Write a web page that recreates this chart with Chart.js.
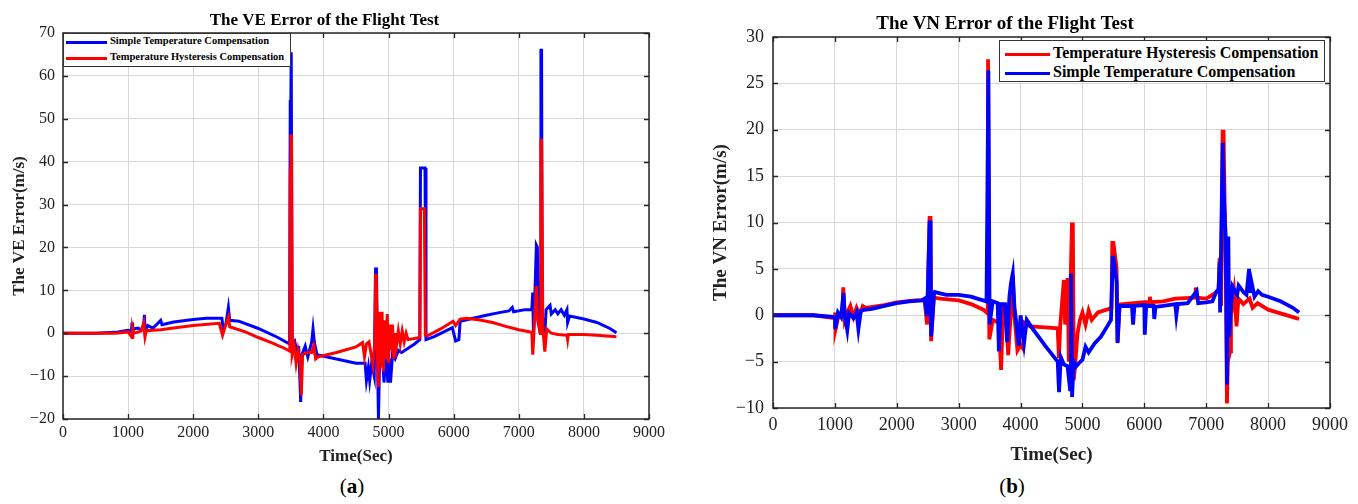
<!DOCTYPE html>
<html>
<head>
<meta charset="utf-8">
<script src="https://cdn.jsdelivr.net/npm/chart.js@4.4.0/dist/chart.umd.min.js"></script>
<style>
  body { margin: 0; background: #fff; font-family: "Liberation Serif", serif; }
  .wrap { position: absolute; top: 0; height: 470px; }
  .legend { position: absolute; background: #fff; border: 1px solid #333; box-sizing: border-box; font-weight: bold; color: #000; }
  .legend .row { position: absolute; white-space: nowrap; }
  .legend .swatch { position: absolute; height: 3px; }
  .cap { position: absolute; top: 474px; font-size: 21px; color: #000; transform: translateX(-50%); }
</style>
</head>
<body>
<div class="wrap" style="left:0;width:680px"><canvas id="ve"></canvas></div>
<div class="wrap" style="left:680px;width:678px"><canvas id="vn"></canvas></div>

<div class="legend" style="left:63px;top:33px;width:228px;height:34px;font-size:10.5px">
  <div class="swatch" style="left:2px;top:7px;width:41px;background:#0000ff"></div>
  <div class="row" style="left:46px;top:1px">Simple Temperature Compensation</div>
  <div class="swatch" style="left:2px;top:23px;width:41px;background:#ff0000"></div>
  <div class="row" style="left:46px;top:17px">Temperature Hysteresis Compensation</div>
</div>
<div class="legend" style="left:999px;top:40px;width:326px;height:42px;font-size:16px">
  <div class="swatch" style="left:5px;top:12px;width:45px;background:#ff0000"></div>
  <div class="row" style="left:53px;top:3px">Temperature Hysteresis Compensation</div>
  <div class="swatch" style="left:5px;top:31px;width:45px;background:#0000ff"></div>
  <div class="row" style="left:53px;top:22px">Simple Temperature Compensation</div>
</div>

<div class="cap" style="left:352px">(<b>a</b>)</div>
<div class="cap" style="left:1012px">(<b>b</b>)</div>

<script>
// [time (s), error (m/s)] pairs
const veSimple = [[0,0],[500,0],[800,0.2],[1000,0.7],[1050,0.4],[1060,2.5],[1070,-1],[1080,1],[1150,1.2],[1200,0.8],[1240,1.5],[1250,4.3],[1260,0.5],[1300,1.8],[1380,1.2],[1450,2.2],[1500,3],[1520,2],[1700,2.6],[2000,3.2],[2200,3.5],[2440,3.5],[2460,1],[2500,2],[2540,6],[2560,3],[2700,2.8],[3000,1.1],[3300,-1],[3480,-2.5],[3490,54],[3500,55],[3505,65.5],[3515,65.5],[3520,-3],[3560,-2],[3600,-5],[3620,-3],[3650,-16],[3670,-5],[3720,-3],[3760,-5.5],[3820,-2],[3840,1],[3860,-2],[3900,-5],[4200,-6],[4500,-7],[4640,-7],[4660,-11],[4690,-8],[4710,-11],[4740,-7],[4780,-10],[4800,15],[4815,15],[4830,-5],[4845,-20],[4860,-8],[4900,-3],[4930,-11.5],[4960,-4],[4990,-11.5],[5010,-6],[5030,-11.5],[5060,-5],[5100,-6],[5150,-4],[5200,-4.5],[5300,-3.5],[5400,-2.5],[5480,-1.5],[5490,38.5],[5560,38.5],[5575,-1.5],[5700,-0.8],[5850,0.3],[5980,1.3],[6030,-1.8],[6080,-1.5],[6100,2.8],[6300,3.5],[6500,4.2],[6700,4.8],[6850,5.2],[6900,6],[6920,5],[7100,5.5],[7200,5.5],[7215,9.5],[7225,0],[7240,5],[7270,20.5],[7285,20],[7300,3],[7330,0],[7340,66],[7350,66],[7360,4],[7400,0],[7420,5.5],[7480,6.5],[7500,4.5],[7560,5.5],[7600,4.5],[7650,5.5],[7700,4.2],[7740,5.5],[7750,2.5],[7780,4],[8000,3.3],[8200,2.5],[8400,1.1],[8500,0.1]]

const veHyst = [[0,0],[800,0],[1000,0.3],[1060,-1],[1070,1.2],[1090,0],[1200,0.5],[1240,2.5],[1260,-0.8],[1280,0.6],[1500,0.8],[1700,1.2],[2000,1.8],[2400,2.3],[2450,-0.5],[2480,1],[2540,3.8],[2560,1.5],[2800,0.3],[3000,-1],[3200,-2.2],[3400,-3.5],[3485,-4.2],[3490,38],[3500,46],[3510,46],[3520,-5],[3550,-3],[3580,-7],[3610,-4],[3640,-6.5],[3660,-14.5],[3680,-5],[3750,-4.5],[3820,-4.5],[3850,-3],[3880,-6],[3920,-5.5],[4200,-4.5],[4500,-3.2],[4600,-2.2],[4630,-5.5],[4660,-2.5],[4700,-2],[4760,-7.5],[4790,-2],[4800,13.5],[4810,13.5],[4830,-5],[4845,-12.5],[4860,5],[4880,-8],[4900,5],[4920,-9],[4940,3],[4960,-6],[4980,4.5],[5000,-7],[5020,2],[5040,-4],[5060,2],[5080,-6],[5100,0],[5120,-3],[5150,0.5],[5180,-2.5],[5210,0.5],[5240,-2],[5270,0],[5300,-1.5],[5480,-1],[5490,29],[5550,29],[5565,-0.5],[5600,-0.6],[5800,1],[5990,2.8],[6030,1.8],[6100,3.3],[6200,3.5],[6400,3.1],[6600,2.5],[6800,1.6],[7000,0.8],[7200,0.2],[7215,-5],[7235,1],[7270,11],[7290,3],[7330,0],[7340,45],[7350,45],[7370,1],[7400,-4.3],[7430,1],[7500,0],[7600,-0.3],[7740,-0.5],[7750,-1.5],[7760,-0.3],[8000,-0.3],[8200,-0.5],[8500,-0.8]]

const vnHyst = [[0,0],[650,0],[1000,-0.3],[1005,0.3],[1010,-1.5],[1050,-0.3],[1120,0],[1135,3],[1160,-0.5],[1200,0.3],[1250,1],[1300,-0.2],[1350,0.8],[1400,0],[1450,1],[1500,0.8],[1800,1.1],[2000,1.4],[2300,1.6],[2450,1.6],[2490,-1],[2530,10.5],[2545,10.5],[2555,-2.8],[2600,1.9],[2700,1.8],[3000,1.6],[3200,1.2],[3400,0.6],[3470,0.2],[3475,27.6],[3485,27.6],[3495,-2.6],[3550,-0.5],[3650,-0.8],[3685,-5.9],[3720,0.8],[3760,1],[3800,-4.3],[3840,0],[3875,4.3],[3900,0],[3950,-3.8],[4000,-3.2],[4040,-3.6],[4060,-0.8],[4150,-1.2],[4400,-1.3],[4600,-1.4],[4620,-4.6],[4640,-1.2],[4700,3.8],[4720,-1],[4760,4],[4780,-5],[4830,9.8],[4845,9.8],[4860,-7],[4880,-5.5],[4920,-2],[4960,-0.5],[5000,0.3],[5050,-1],[5100,0.5],[5150,-0.5],[5250,0.3],[5391,0.6],[5470,0.8],[5482,7.8],[5500,7.8],[5550,5.2],[5570,-2.9],[5600,1.15],[6000,1.4],[6080,1.4],[6090,2],[6100,1.4],[6300,1.5],[6500,1.8],[6820,1.9],[6830,3],[6840,1.9],[7000,1.8],[7150,2.4],[7200,2.8],[7217,6.2],[7240,1],[7265,19.8],[7280,19.8],[7300,11],[7320,3],[7335,-9.5],[7350,-5],[7385,-3.9],[7400,0],[7450,2.5],[7490,-1.2],[7520,1.8],[7600,1.2],[7700,1.8],[7750,0.8],[7830,1.3],[8000,0.6],[8200,0.2],[8400,-0.2],[8500,-0.4]]

const vnSimple = [[0,0],[650,0],[1000,-0.2],[1005,-1.5],[1050,0.3],[1100,-0.2],[1140,2.4],[1160,0],[1200,-1.6],[1230,0.2],[1300,-0.3],[1350,0.3],[1380,-1.5],[1420,0.5],[1500,0.6],[1600,0.7],[1800,1],[2000,1.3],[2200,1.5],[2400,1.6],[2450,1.8],[2490,-0.1],[2530,10],[2545,10],[2555,-2.3],[2600,2.2],[2615,2.5],[2800,2.2],[3000,2.2],[3200,2],[3300,1.8],[3450,1.5],[3480,26.4],[3490,26.4],[3500,-1],[3550,1.5],[3630,1.3],[3650,-3.9],[3680,1.2],[3748,1.2],[3783,-2.9],[3820,2],[3846,3.5],[3874,4.5],[3900,1],[3972,-3.3],[4000,0],[4056,-3],[4100,-0.5],[4200,-1.5],[4400,-3.3],[4600,-5],[4622,-8.3],[4650,-4.5],[4700,-5.3],[4760,-5.5],[4800,-8],[4815,4.5],[4832,-8.8],[4860,-5],[4900,-5.5],[4937,-5.2],[5000,-4.8],[5050,-3.4],[5100,-4],[5200,-3],[5300,-2.3],[5400,-1.2],[5461,-0.5],[5489,6.2],[5500,6.2],[5552,3.6],[5566,-3],[5600,1],[5800,1],[5818,-1],[5840,1],[6000,1.1],[6007,-2.1],[6030,1],[6150,1],[6161,-0.4],[6180,0.9],[6300,1],[6500,1.2],[6517,0],[6540,1.2],[6700,1.3],[6846,2.6],[6870,1.3],[7000,1.4],[7100,1.5],[7161,2.5],[7200,2.8],[7217,5.8],[7224,0.3],[7266,18.6],[7290,12],[7315,8.5],[7336,-7.5],[7357,8.5],[7371,-2.3],[7400,1],[7426,3.1],[7500,2.2],[7524,3.2],[7600,2.5],[7650,2.2],[7692,5],[7715,2.4],[7734,3.5],[7780,2],[7839,2.6],[7900,2.2],[8000,2],[8200,1.5],[8400,0.8],[8500,0.3]]

const timeTicks = { min: 0, max: 9000, step: 1000 }
const veTicks = { min: -20, max: 70, step: 10 }
const vnTicks = { min: -10, max: 30, step: 5 }

const FONT = "'Liberation Serif', 'Times New Roman', serif"
const toPoints = (pairs) => pairs.map(([x, y]) => ({ x, y }))
const fmt = (v) => String(v).replace("-", "\u2212")

// box around the plot plus matlab style inward ticks
const framePlugin = {
  id: "frame",
  afterDraw(chart) {
    const { ctx, chartArea: a, scales } = chart
    ctx.save()
    ctx.strokeStyle = "#262626"
    ctx.lineWidth = 1.3
    ctx.beginPath()
    scales.y.ticks.forEach((t) => {
      const py = Math.round(scales.y.getPixelForValue(t.value)) + 0.5
      ctx.moveTo(a.left, py); ctx.lineTo(a.left + 5, py)
      ctx.moveTo(a.right, py); ctx.lineTo(a.right - 5, py)
    })
    scales.x.ticks.forEach((t) => {
      const px = Math.round(scales.x.getPixelForValue(t.value)) + 0.5
      ctx.moveTo(px, a.bottom); ctx.lineTo(px, a.bottom - 5)
      ctx.moveTo(px, a.top); ctx.lineTo(px, a.top + 5)
    })
    ctx.stroke()
    ctx.lineWidth = 1.5
    ctx.strokeRect(a.left, a.top, a.right - a.left, a.bottom - a.top)
    ctx.restore()
  }
}

function makeChart(id, opts) {
  const ds = opts.series.map((s) => ({
    label: s.label,
    data: toPoints(s.data),
    borderColor: s.color,
    borderWidth: opts.lineWidth,
    pointRadius: 0,
    tension: 0,
    fill: false
  }))

  return new Chart(document.getElementById(id), {
    type: "line",
    data: { datasets: ds },
    options: {
      animation: false,
      responsive: true,
      maintainAspectRatio: false,
      layout: { padding: opts.padding },
      plugins: {
        legend: { display: false },
        tooltip: { enabled: false },
        title: {
          display: true,
          text: opts.title,
          color: "#000",
          font: { family: FONT, size: opts.titleSize, weight: "bold", lineHeight: 1.2 },
          padding: opts.titlePad
        }
      },
      scales: {
        x: {
          type: "linear",
          min: timeTicks.min,
          max: timeTicks.max,
          afterFit: (scale) => { scale.height = opts.xHeight },
          ticks: {
            stepSize: timeTicks.step,
            color: "#222",
            padding: opts.xTickPad,
            maxRotation: 0,
            font: { family: FONT, size: opts.tickSize },
            callback: (v) => fmt(v)
          },
          grid: { color: "#d8d8d8", drawTicks: false },
          border: { display: false },
          title: {
            display: true,
            text: "Time(Sec)",
            color: "#222",
            font: { family: FONT, size: opts.axisTitleSize, weight: "bold", lineHeight: 1.2 },
            padding: { top: 0, bottom: 0 }
          }
        },
        y: {
          min: opts.yTicks.min,
          max: opts.yTicks.max,
          afterFit: (scale) => { scale.width = opts.yWidth },
          ticks: {
            stepSize: opts.yTicks.step,
            color: "#222",
            padding: opts.yTickPad,
            font: { family: FONT, size: opts.tickSize },
            callback: (v) => fmt(v)
          },
          grid: { color: "#d8d8d8", drawTicks: false },
          border: { display: false },
          title: {
            display: true,
            text: opts.yTitle,
            color: "#222",
            font: { family: FONT, size: opts.axisTitleSize, weight: "bold", lineHeight: 1.2 },
            padding: { top: opts.yTitlePad, bottom: 0 }
          }
        }
      }
    },
    plugins: [framePlugin]
  })
}

// first dataset is drawn on top
makeChart("ve", {
  title: "The VE Error of the Flight Test",
  yTitle: "The VE Error(m/s)",
  series: [
    { label: "Temperature Hysteresis Compensation", data: veHyst, color: "#ff0000" },
    { label: "Simple Temperature Compensation", data: veSimple, color: "#0000ff" }
  ],
  yTicks: veTicks,
  lineWidth: 3,
  padding: { left: 0, right: 31, top: 0, bottom: 3 },
  titleSize: 17,
  titlePad: { top: 10, bottom: 2.6 },
  tickSize: 16,
  axisTitleSize: 17,
  xHeight: 48,
  yWidth: 63,
  xTickPad: 4,
  yTickPad: 8,
  yTitlePad: 9
})

makeChart("vn", {
  title: "The VN Error of the Flight Test",
  yTitle: "The VN Error(m/s)",
  series: [
    { label: "Simple Temperature Compensation", data: vnSimple, color: "#0000ff" },
    { label: "Temperature Hysteresis Compensation", data: vnHyst, color: "#ff0000" }
  ],
  yTicks: vnTicks,
  lineWidth: 3.8,
  padding: { left: 0, right: 28, top: 0, bottom: 4 },
  titleSize: 19,
  titlePad: { top: 12.6, bottom: 1.6 },
  tickSize: 18,
  axisTitleSize: 19,
  xHeight: 58,
  yWidth: 93,
  xTickPad: 6,
  yTickPad: 9,
  yTitlePad: 30
})
</script>
</body>
</html>
